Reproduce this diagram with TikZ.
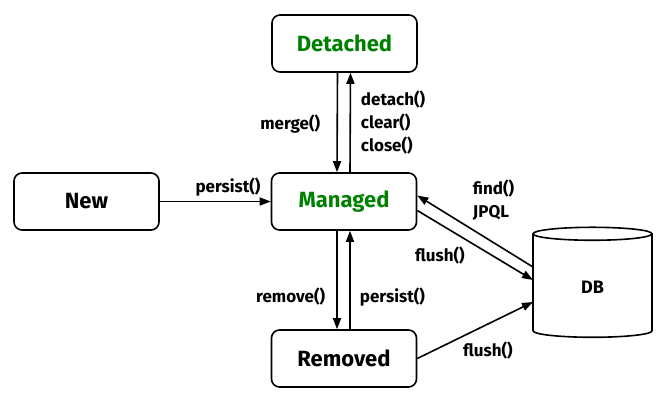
\documentclass[tikz,border=0pt]{standalone}
\usepackage{fontspec}
\setmainfont{Fira Sans}
\usetikzlibrary{arrows.meta,shapes.geometric,calc}

\begin{document}
\begin{tikzpicture}[x=1pt,y=-1pt,
    state/.style={draw,rounded corners=8pt,line width=1.6pt,minimum width=145pt,minimum height=57pt,font=\fontsize{22}{24}\selectfont\bfseries},
    lbl/.style={font=\fontsize{17}{23}\selectfont\bfseries,inner sep=0.75pt,align=left},
    arr/.style={line width=1.6pt,-{Triangle[length=11pt,width=8pt]}}]
    \useasboundingbox (0,0) rectangle (666,404);

    \node[state,text=green!50!black] (detached) at (344.5,43.5) {Detached};
    \node[state] (new) at (86.5,201.5) {New};
    \node[state,text=green!50!black] (managed) at (344,201.5) {Managed};
    \node[state] (removed) at (344,358.5) {Removed};
    \node[draw,line width=1.6pt,shape=cylinder,shape border rotate=90,aspect=0.44,minimum width=119pt,minimum height=110pt,font=\fontsize{18}{20}\selectfont\bfseries] (db) at (592.5,287) {DB};

    \draw[arr] ([xshift=-7pt]detached.south) -- ([xshift=-7pt]managed.north);
    \draw[arr] ([xshift=6pt]managed.north) -- ([xshift=6pt]detached.south);
    \draw[arr] (new.east) -- (managed.west);
    \draw[arr] ([xshift=-7pt]managed.south) -- ([xshift=-7pt]removed.north);
    \draw[arr] ([xshift=6pt]removed.north) -- ([xshift=6pt]managed.south);
    \draw[arr] ($(db.center)+(-59.5,-20)$) -- ([yshift=6pt]managed.east);
    \draw[arr] ([yshift=-9pt]managed.east) -- ($(db.center)+(-59.5,-7)$);
    \draw[arr] (removed.east) -- ($(db.center)+(-59.5,15)$);

    \node[lbl,anchor=east] (merge) at (321,124) {merge()};
    \node[lbl,anchor=west] (detach) at (360,123) {detach()\\clear()\\close()};
    \node[lbl] (persistnew) at (228,187) {persist()};
    \node[lbl,anchor=east] (remove) at (326,297) {remove()};
    \node[lbl,anchor=west] (persistrem) at (359,297) {persist()};
    \node[lbl,anchor=west] (find) at (472,200) {find()\\JPQL};
    \node[lbl] (flushman) at (440,256) {flush()};
    \node[lbl] (flushrem) at (488,351) {flush()};
\end{tikzpicture}
\end{document}
